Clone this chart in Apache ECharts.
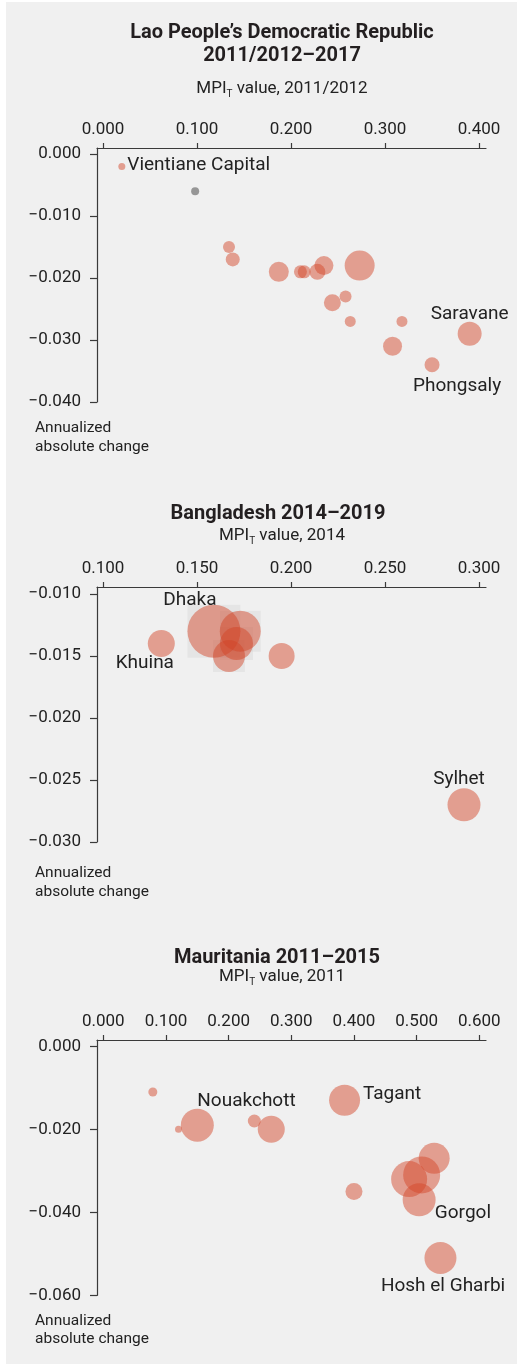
<!DOCTYPE html>
<html><head><meta charset="utf-8">
<script src="https://cdn.jsdelivr.net/npm/echarts@6/dist/echarts.min.js"></script>
<style>
html,body{margin:0;padding:0;background:#fff;}
#bg{position:absolute;left:6px;top:2px;width:511px;height:1362px;background:#f0f0f0;}
#c{position:absolute;left:0;top:0;width:517px;height:1364px;}
</style></head>
<body><div id="bg"></div><div id="c"></div>
<script>
// ---------------- DATA ----------------
// Lao PDR 2011/2012–2017 (x: MPI_T 2011/2012, y: annualized absolute change, w: relative population weight)
const laoX = [0.020,0.134,0.138,0.187,0.210,0.214,0.228,0.235,0.273,0.258,0.244,0.263,0.318,0.308,0.350,0.390];
const laoY = [-0.002,-0.015,-0.017,-0.019,-0.019,-0.019,-0.019,-0.018,-0.018,-0.023,-0.024,-0.027,-0.027,-0.031,-0.034,-0.029];
const laoW = [49,144,196,400,169,169,256,361,900,144,289,121,121,361,225,576];
const laoLabels = ['Vientiane Capital','','','','','','','','','','','','','','Phongsaly','Saravane'];
// Lao national value (grey)
const laoNatX = [0.098];
const laoNatY = [-0.006];
const laoNatW = [64];

// Bangladesh 2014–2019
const bgdX = [0.131,0.159,0.173,0.171,0.167,0.195,0.292];
const bgdY = [-0.014,-0.013,-0.013,-0.014,-0.015,-0.015,-0.027];
const bgdW = [729,2809,1681,1089,1024,676,1089];
const bgdLabels = ['Khuina','Dhaka','','','','','Sylhet'];
const bgdBoxed = [false,true,true,true,true,false,false];

// Mauritania 2011–2015
const mrtX = [0.079,0.120,0.150,0.241,0.268,0.385,0.400,0.528,0.508,0.488,0.504,0.538];
const mrtY = [-0.011,-0.020,-0.019,-0.018,-0.020,-0.013,-0.035,-0.027,-0.031,-0.032,-0.037,-0.051];
const mrtW = [81,49,1089,169,729,961,289,961,1369,1296,1089,1024];
const mrtLabels = ['','','Nouakchott','','','Tagant','','','','','Gorgol','Hosh el Gharbi'];

// Tick labels
const laoXTicks = [0.0,0.1,0.2,0.3,0.4];
const laoYTicks = [0.0,-0.01,-0.02,-0.03,-0.04];
const bgdXTicks = [0.10,0.15,0.20,0.25,0.30];
const bgdYTicks = [-0.010,-0.015,-0.020,-0.025,-0.030];
const mrtXTicks = [0.0,0.1,0.2,0.3,0.4,0.5,0.6];
const mrtYTicks = [0.0,-0.02,-0.04,-0.06];

// ---------------- STYLE ----------------
const FONT = 'Roboto, "Noto Sans", sans-serif';
const TXT = '#222222';
const AX = '#3a3a3a';
const BUBBLE = 'rgba(212,68,40,0.6)';
const labelPlacement = {
  'Vientiane Capital': {align:'left', dx:5.5, dy:-1},
  'Saravane': {align:'center', dx:0, dy:-20},
  'Phongsaly': {align:'center', dx:25, dy:21},
  'Dhaka': {align:'center', dx:-24, dy:-31},
  'Khuina': {align:'center', dx:-16.5, dy:20},
  'Sylhet': {align:'center', dx:-5, dy:-26},
  'Nouakchott': {align:'left', dx:0, dy:-23.6},
  'Tagant': {align:'left', dx:18.4, dy:-6.3},
  'Gorgol': {align:'left', dx:15.7, dy:13.6},
  'Hosh el Gharbi': {align:'center', dx:2.6, dy:28}
};

function fmt(v){ const s = Math.abs(v).toFixed(3); return (v < -1e-9 ? '\u2212' : '') + s; }

function items(xs, ys, ws, labels){
  return xs.map((x,i)=>{
    const name = labels ? labels[i] : '';
    const it = {value:[x, ys[i], ws[i]], name: name};
    if (name && labelPlacement[name]) {
      const p = labelPlacement[name];
      it.label = {show:true, position:'inside', align:p.align, verticalAlign:'middle',
        formatter:name, fontFamily:FONT, fontSize:19, color:TXT,
        textBorderWidth:0, textBorderColor:'transparent', textShadowBlur:0, opacity:1};
    }
    return it;
  });
}

function layoutFn(params){
  const p = labelPlacement[params.text];
  if (!p) return {};
  return {dx:p.dx, dy:p.dy, hideOverlap:false, moveOverlap:null};
}

const grids = [
  {left:97, top:148, width:389, height:254},
  {left:97, top:587, width:389, height:255},
  {left:97, top:1040, width:389, height:255.3}
];

function xAxis(gi, min, max, ticks){
  return {gridIndex:gi, type:'value', position:'top', min:min, max:max,
    axisLine:{show:true, onZero:false, lineStyle:{color:AX, width:1.2}},
    axisTick:{show:true, length:5, customValues:ticks, lineStyle:{color:AX, width:1.2}},
    axisLabel:{show:true, customValues:ticks, formatter:fmt, margin:10, fontFamily:FONT, fontSize:17, color:TXT},
    splitLine:{show:false}};
}
function yAxis(gi, min, max, ticks){
  return {gridIndex:gi, type:'value', position:'left', min:min, max:max,
    axisLine:{show:true, onZero:false, lineStyle:{color:AX, width:1.2}},
    axisTick:{show:true, length:7, customValues:ticks, lineStyle:{color:AX, width:1.2}},
    axisLabel:{show:true, customValues:ticks, formatter:fmt, margin:16, fontFamily:FONT, fontSize:17, color:TXT},
    splitLine:{show:false}};
}

function sizeFn(val){ return Math.sqrt(val[2]); }

const bubbleSeries = (gi, data, color) => ({
  type:'scatter', xAxisIndex:gi, yAxisIndex:gi, data:data, symbolSize:sizeFn,
  itemStyle:{color:color}, label:{show:false}, emphasis:{disabled:true}, silent:true, z:3,
  labelLayout:layoutFn
});

function t(text, x, y, opts){
  return {type:'text', x:x, y:y, silent:true, style:Object.assign({text:text, fontFamily:FONT, fill:TXT,
    textAlign:'center', textVerticalAlign:'middle', fontSize:17}, opts||{})};
}
function sub(rest, x, y){
  return {type:'text', x:x, y:y, silent:true, style:{
    text:'{m|MPI}{s|T}{m|' + rest + '}', textAlign:'center', textVerticalAlign:'middle',
    rich:{m:{fontSize:17, fontFamily:FONT, fill:TXT}, s:{fontSize:10, fontFamily:FONT, fill:TXT, padding:[10,0,0,0]}}}};
}

const bgdBoxData = items(bgdX, bgdY, bgdW, null).filter((d,i)=>bgdBoxed[i]);

const option = {
  animation:false,
  backgroundColor:'transparent',
  grid: grids,
  xAxis: [xAxis(0,-0.0064,0.4074,laoXTicks), xAxis(1,0.0968,0.3037,bgdXTicks), xAxis(2,-0.0101,0.6107,mrtXTicks)],
  yAxis: [yAxis(0,-0.04,0.00097,laoYTicks), yAxis(1,-0.030,-0.00944,bgdYTicks), yAxis(2,-0.06,0.00152,mrtYTicks)],
  series: [
    bubbleSeries(0, items(laoNatX, laoNatY, laoNatW, null), '#7f7f7f'),
    bubbleSeries(0, items(laoX, laoY, laoW, laoLabels), BUBBLE),
    {type:'scatter', xAxisIndex:1, yAxisIndex:1, data:bgdBoxData, symbol:'rect', symbolSize:sizeFn,
      itemStyle:{color:'rgba(0,0,0,0.055)'}, silent:true, z:2, emphasis:{disabled:true}},
    bubbleSeries(1, items(bgdX, bgdY, bgdW, bgdLabels), BUBBLE),
    bubbleSeries(2, items(mrtX, mrtY, mrtW, mrtLabels), BUBBLE)
  ],
  graphic: [
    t('Lao People\u2019s Democratic Republic', 282, 33, {fontSize:20, fontWeight:'bold', fill:'#231f20'}),
    t('2011/2012\u20132017', 282, 56, {fontSize:20, fontWeight:'bold', fill:'#231f20'}),
    sub(' value, 2011/2012', 282, 89),
    t('Annualized', 35, 428, {textAlign:'left', fontSize:15.5}),
    t('absolute change', 35, 447, {textAlign:'left', fontSize:15.5}),

    t('Bangladesh 2014\u20132019', 278, 514, {fontSize:20, fontWeight:'bold', fill:'#231f20'}),
    sub(' value, 2014', 282, 536),
    t('Annualized', 35, 873, {textAlign:'left', fontSize:15.5}),
    t('absolute change', 35, 892, {textAlign:'left', fontSize:15.5}),

    t('Mauritania 2011\u20132015', 277, 958, {fontSize:20, fontWeight:'bold', fill:'#231f20'}),
    sub(' value, 2011', 282, 977),
    t('Annualized', 35, 1321, {textAlign:'left', fontSize:15.5}),
    t('absolute change', 35, 1339, {textAlign:'left', fontSize:15.5})
  ]
};

const chart = echarts.init(document.getElementById('c'), null, {renderer:'canvas'});
chart.setOption(option);
</script>
</body></html>
